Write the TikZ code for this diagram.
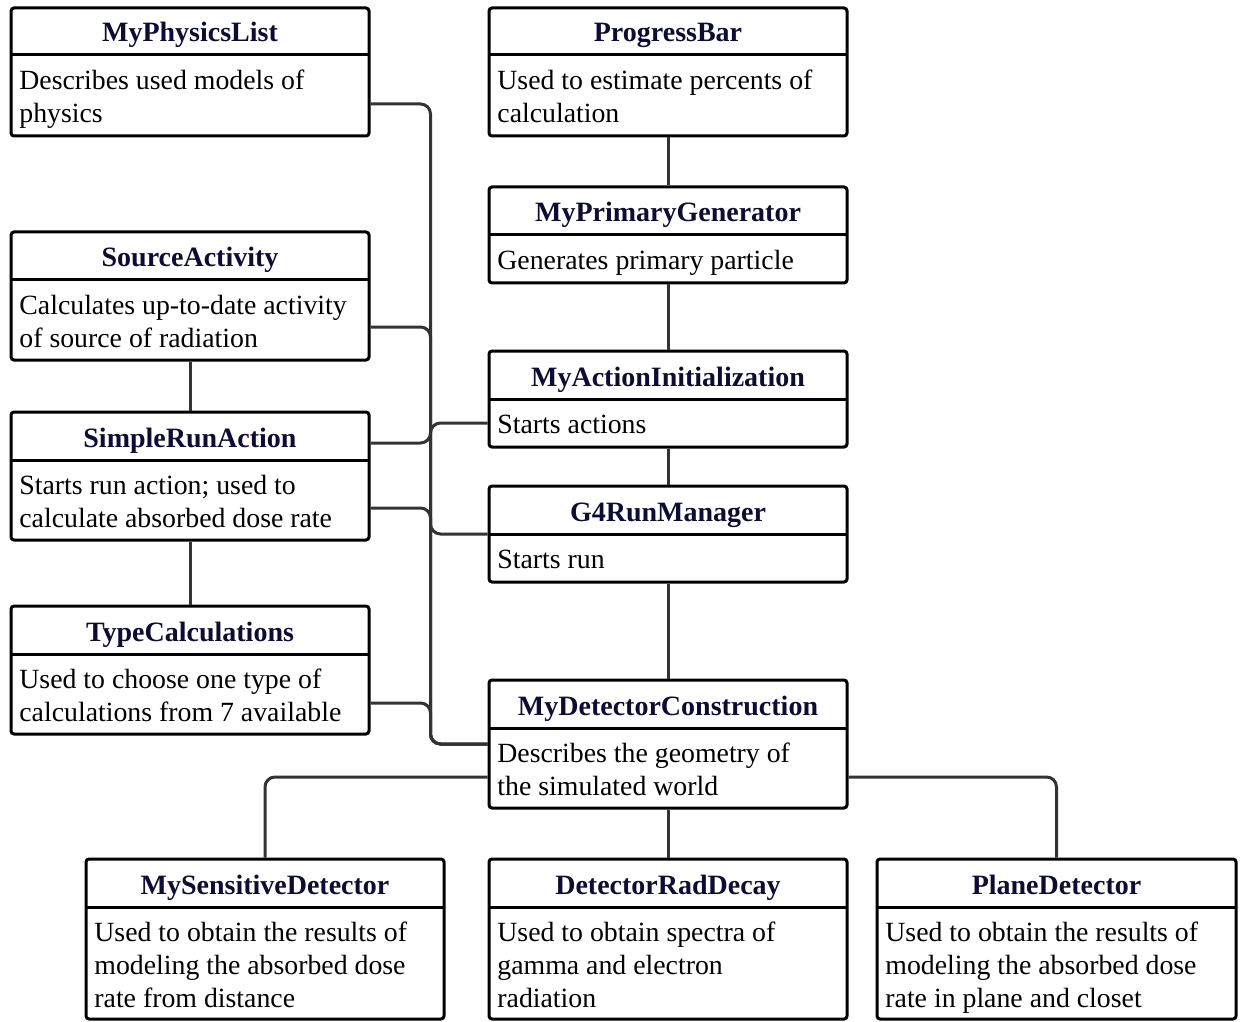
\documentclass[tikz,border=0pt]{standalone}
\usepackage{fontspec}
\setmainfont{Liberation Serif}
\usetikzlibrary{fit}
\definecolor{ttl}{HTML}{0D0D33}
\definecolor{lnk}{HTML}{333333}
\tikzset{
 frame/.style={draw=black, line width=1.5pt, rounded corners=1.5pt, inner sep=0pt},
 ttlstyle/.style={font=\fontsize{14}{16.5}\selectfont\bfseries, text=ttl, inner sep=0pt, anchor=base},
 bodystyle/.style={font=\fontsize{13.9}{16.5}\selectfont, text=black, inner sep=0pt, anchor=north west, align=left},
 conn/.style={draw=lnk, line width=1.5pt, rounded corners=5pt},
 divline/.style={draw=black, line width=1.5pt}
}
\newcommand\umlbox[8]{%
 \node[frame, fit={(#2,#3) (#4,#5)}] (#1) {};
 \draw[divline] (#2,#6) -- (#4,#6);
 \node[ttlstyle] (#1-t) at ({(#2+#4)/2},{#6-13}) {#7};
 \node[bodystyle] (#1-b) at ({#2+8},{#6}) {\rule{0pt}{17pt}#8};
}
\begin{document}
\begin{tikzpicture}[x=0.5pt,y=-0.5pt]
\useasboundingbox (0,0) rectangle (1245,1021);
\umlbox{phys}{11}{8}{369}{136}{55}{MyPhysicsList}{Describes used models of\\physics}
\umlbox{pb}{489}{8}{847}{136}{55}{ProgressBar}{Used to estimate percents of\\calculation}
\umlbox{pg}{489}{187}{847}{283}{235}{MyPrimaryGenerator}{Generates primary particle}
\umlbox{src}{11}{232}{369}{360}{280}{SourceActivity}{Calculates up-to-date activity\\of source of radiation}
\umlbox{act}{489}{351}{847}{447}{399}{MyActionInitialization}{Starts actions}
\umlbox{sra}{11}{412}{369}{540}{460}{SimpleRunAction}{Starts run action; used to\\calculate absorbed dose rate}
\umlbox{run}{489}{486}{847}{582}{534}{G4RunManager}{Starts run}
\umlbox{typ}{11}{606}{369}{734}{654}{TypeCalculations}{Used to choose one type of\\calculations from 7 available}
\umlbox{det}{489}{680}{847}{808}{728}{MyDetectorConstruction}{Describes the geometry of\\the simulated world}
\umlbox{sens}{86}{859}{444}{1019}{907}{MySensitiveDetector}{Used to obtain the results of\\modeling the absorbed dose\\rate from distance}
\umlbox{rad}{489}{859}{847}{1019}{907}{DetectorRadDecay}{Used to obtain spectra of\\gamma and electron\\radiation}
\umlbox{plane}{877}{859}{1236}{1019}{907}{PlaneDetector}{Used to obtain the results of\\modeling the absorbed dose\\rate in plane and closet}
% connectors
\draw[conn] ([yshift=-16pt]phys.east) -- ++(60,0) |- (det.west);
\draw[conn] ([yshift=-15.5pt]src.east) -- ++(60,0) |- (det.west);
\draw[conn] ([yshift=16.5pt]sra.east) -- ++(60,0) |- ([yshift=-12pt]act.west);
\draw[conn] ([yshift=-16pt]sra.east) -- ++(60,0) |- (run.west);
\draw[conn] ([yshift=-16.5pt]typ.east) -- ++(60,0) |- (det.west);
\draw[conn] (src.south) -- (sra.north);
\draw[conn] (sra.south) -- (typ.north);
\draw[conn] (pb.south) -- (pg.north);
\draw[conn] (pg.south) -- (act.north);
\draw[conn] (act.south) -- (run.north);
\draw[conn] (run.south) -- (det.north);
\draw[conn] (det.south) -- (rad.north);
\draw[conn] ([yshift=-16.5pt]det.west) -| (sens.north);
\draw[conn] ([yshift=-16.5pt]det.east) -| (plane.north);
\end{tikzpicture}
\end{document}
